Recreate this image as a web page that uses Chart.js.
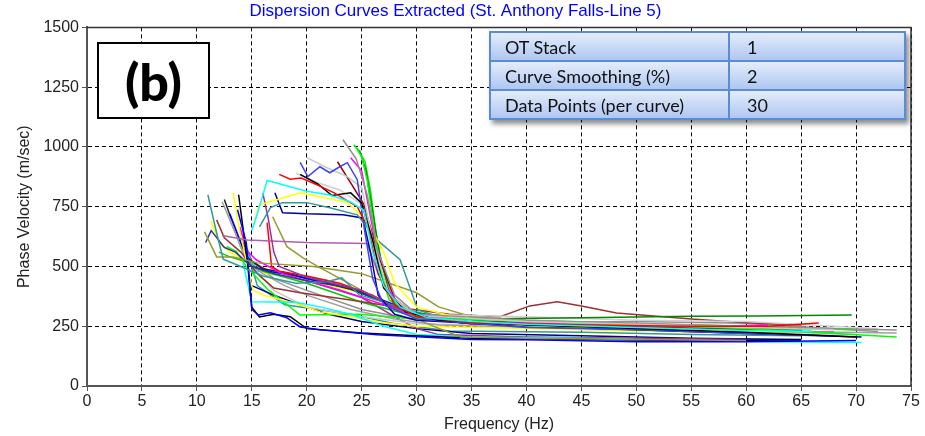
<!DOCTYPE html>
<html>
<head>
<meta charset="utf-8">
<script src="https://cdn.jsdelivr.net/npm/chart.js@4.4.0/dist/chart.umd.min.js"></script>
<style>
  html, body { margin: 0; padding: 0; background: #fff; }
  #wrap { position: relative; width: 925px; height: 436px; }
  #chart { position: absolute; left: 0; top: 0; }
  .tag {
    position: absolute; left: 97px; top: 42px; width: 109px; height: 73px;
    border: 2px solid #000; background: #fff;
    font: 900 52px Lato, "Liberation Sans", sans-serif; color: #000;
    display: flex; align-items: center; justify-content: center;
  }
  table.info {
    position: absolute; left: 489px; top: 31px; width: 417px;
    border-collapse: collapse; box-shadow: 3px 4px 5px rgba(0,0,0,0.45);
    font: 18px Lato, "Open Sans", sans-serif; color: #111;
  }
  table.info td {
    border: 2px solid #5b8bd0; height: 27px; padding: 0 0 0 14px;
    background: linear-gradient(#e4ecfb, #aec7f1);
  }
  table.info td.val { padding-left: 17px; }
</style>
</head>
<body>
<div id="wrap">
  <canvas id="chart" width="925" height="436"></canvas>
  <div class="tag">(b)</div>
  <table class="info">
    <tr><td style="width:223px">OT Stack</td><td class="val">1</td></tr>
    <tr><td>Curve Smoothing (%)</td><td class="val">2</td></tr>
    <tr><td>Data Points (per curve)</td><td class="val">30</td></tr>
  </table>
</div>
<script>
const titleText = 'Dispersion Curves Extracted (St. Anthony Falls-Line 5)';
const xTitle = 'Frequency (Hz)';
const yTitle = 'Phase Velocity (m/sec)';

// [frequency Hz, phase velocity m/s]
// high-velocity branch (drops near 25-27 Hz)
const cyanHigh = [[15,650],[15.5,720],[16.4,860],[18,840],[20,815],[22,800],[24,770],[25.2,735],[26,560],[27,420],[28.5,330],[31,285],[35,270],[40,258],[50,245],[60,232],[66,228]];
const redHigh = [[17.5,885],[18.5,865],[19.5,870],[21,840],[22.5,808],[24.6,750],[25.6,660],[26.5,470],[28,340],[30,290],[35,265],[45,255],[55,250],[62,250],[66.6,264]];
const blackHigh = [[19.4,885],[21,845],[22.3,797],[24,808],[25,765],[26,610],[27,410],[29,310],[32,275],[40,255],[50,240],[60,225],[70,205]];
const blueZigzag = [[19.4,935],[20.1,876],[21.2,917],[22.1,892],[23,917],[23.7,934],[24.6,863],[25.3,640],[26,450],[27,340],[30,280],[40,245],[50,235],[60,220],[68,210]];
const silverHigh = [[20,955],[22,910],[23.7,876],[25,830],[26,610],[27.5,380],[30,295],[40,270],[50,258],[60,245],[68,235]];
const grayHigh = [[23.3,1030],[24.5,950],[25.5,800],[26.5,560],[28,380],[30,300],[40,275],[50,262],[60,250],[73.7,234]];
const limeHigh = [[24.3,1010],[25,960],[25.5,860],[26,700],[26.5,520],[27.5,360],[30,285],[40,270],[50,255],[60,240],[73.7,205]];
const magentaHigh = [[24,955],[25,900],[26,660],[27,430],[29,305],[35,268],[45,258],[55,248],[62,255]];
const darkredHigh = [[22.8,938],[24,850],[25.2,760],[26.5,550],[28,365],[30,295],[40,262],[50,248],[60,238],[65,240]];
const yellowHigh = [[15.1,666],[15.7,758],[17.3,779],[19.4,808],[21.2,792],[23.7,767],[25.5,690],[27,560],[28,430],[30,330],[35,272],[40,252],[50,240],[60,228],[65,226]];
const tealHigh = [[15.7,666],[16.7,746],[17.8,767],[20,767],[22.1,746],[24.6,716],[26.4,611],[28.5,528],[30.1,318],[32,290],[35,272],[45,258],[55,248],[62,246]];
const navyHigh = [[17.1,808],[17.8,725],[20,720],[23.3,716],[25.1,703],[25.8,560],[26.5,380],[28,300],[30,275],[40,250],[50,235],[60,220],[70.5,205]];
const greenHigh = [[24.8,985],[25.4,900],[26,730],[26.6,560],[27.5,390],[29,310],[35,280],[45,285],[55,292],[61,293],[69.6,297]];
const silverHigh2 = [[19,890],[21,850],[23,820],[25,760],[26.3,560],[27.5,400],[30,300],[40,290],[50,275],[60,270],[72,240]];
const limeHigh2 = [[24.6,995],[25.3,940],[25.8,820],[26.3,640],[27,470],[28,350],[30,290],[40,262],[50,250],[60,238],[66,235]];
const purpleDrop = [[16,808],[16.5,700],[17,560],[17.5,500],[20,455],[25,400],[28,330],[30,290],[35,260],[45,250],[55,240],[62,235]];
const violetFlat = [[12.3,630],[14.6,611],[20,600],[25.5,596],[26.5,470],[28,350],[30,300],[35,260],[45,255],[55,245],[62,240]];

// low-frequency branch (starts at 11-14 Hz)
const tealLow = [[11,800],[11.8,640],[12.4,530],[14,500],[16,460],[19,430],[21.8,436],[23.2,452],[24.8,381],[28.5,330],[32,285],[40,265],[50,250],[60,240]];
const oliveLow = [[10.7,645],[11.8,540],[13.3,540],[15.5,515],[20.6,500],[25,470],[30,390],[32,331],[35,290],[40,275],[50,260],[60,250],[65,245]];
const oliveLow2 = [[16.9,708],[18.2,583],[19.7,535],[21,500],[25,400],[28,330],[31,260],[34,205],[40,200],[50,195],[60,190]];
const navyLow = [[10.8,600],[11.3,650],[12.5,580],[13.5,560],[15,500],[17,470],[20,440],[24,410],[28,330],[31,280],[35,260],[45,245],[55,235],[65,225]];
const blueLowest = [[13.7,737],[14.5,600],[15,320],[15.6,297],[16.7,306],[18.2,285],[19.4,247],[21.2,235],[26.4,214],[30,206],[35,195],[40,193],[50,185],[60,185],[70,190]];
const blackLow = [[13.8,800],[14.6,520],[15,330],[15.7,289],[17,300],[18.5,290],[20,240],[25,222],[30,210],[35,200],[45,195],[55,190],[65,192]];
const cyanLow = [[14.2,515],[15,352],[19,350],[21.2,331],[24,300],[27,250],[30,215],[35,205],[45,200],[55,190],[62,185],[70.5,182]];
const yellowLow = [[13.3,808],[13.9,650],[15.1,400],[16.4,375],[19,345],[21.2,310],[24,290],[27,265],[30,250],[40,240],[50,230],[60,222]];
const limeLow = [[12.7,583],[13.6,563],[14.5,500],[16.5,402],[19.4,297],[24.8,300],[30,280],[40,265],[50,255],[60,245],[70,235]];
const magentaLow = [[13.9,666],[14.6,563],[15.4,528],[17.6,473],[20,440],[23,402],[27,340],[30,289],[35,270],[45,255],[55,250],[64,245]];
const redLow = [[16.4,683],[16.8,500],[17.5,480],[20,460],[23,430],[26,380],[28,330],[31,280],[35,260],[45,245],[55,235],[63,230]];
const brownBump = [[11.8,695],[12.5,620],[14,560],[15.5,470],[17,410],[19.4,390],[24,360],[28.5,327],[33,300],[37.6,290],[40.3,335],[42.8,352],[45,335],[48.2,305],[55,280],[60,265],[65,255]];
const grayLow = [[12.3,771],[13.5,640],[14.5,520],[16,470],[18,420],[20,380],[24,320],[28,280],[32,255],[40,245],[50,235],[60,230],[73.7,222]];
const silverLow = [[13,700],[14,580],[15,500],[17,400],[20,330],[25,290],[30,260],[40,250],[50,240],[60,230],[70,215]];
const blueMid = [[13,720],[14,600],[15,500],[16.5,480],[18,470],[20,450],[24,410],[28,340],[31,290],[35,270],[45,255],[55,240],[65,230]];
const blackMid = [[12.5,780],[13.5,650],[14.5,540],[16,490],[18,475],[20,450],[24,405],[28,335],[31,285],[40,255],[50,240],[60,230],[68,225]];
const greenMid = [[12,560],[13,540],[14.5,520],[16,480],[20,430],[25,350],[30,290],[40,260],[50,250],[60,240],[65,240]];
const yellowMid = [[11.3,690],[12,600],[13,560],[14.5,520],[16,475],[20,440],[25,390],[30,300],[35,270],[45,255],[55,245],[62,238]];
const cyanMid = [[13.5,640],[14.5,560],[15.5,480],[18,470],[22,440],[26,370],[30,295],[35,275],[45,260],[55,250],[65,240]];
const purpleLow = [[14,620],[15,520],[17,470],[20,440],[25,370],[28,290],[30,240],[32,215],[40,205],[50,200],[60,195]];
const navyLow2 = [[15,420],[17,380],[20,330],[22,300],[25,270],[30,240],[35,220],[45,210],[55,200],[65,195]];
const tealLow2 = [[14.6,560],[15.5,420],[18,340],[21,320],[24,300],[28,260],[33,230],[45,225],[55,215],[65,210]];
const grayMid = [[14,650],[15,520],[17,450],[20,400],[25,320],[30,275],[40,265],[50,270],[60,262],[72,228]];

const curves = [
  cyanHigh, redHigh, blackHigh, blueZigzag, silverHigh, grayHigh, limeHigh, magentaHigh,
  darkredHigh, yellowHigh, tealHigh, navyHigh, greenHigh, silverHigh2, limeHigh2, purpleDrop,
  violetFlat, tealLow, oliveLow, oliveLow2, navyLow, blueLowest, blackLow, cyanLow, yellowLow,
  limeLow, magentaLow, redLow, brownBump, grayLow, silverLow, blueMid, blackMid, greenMid,
  yellowMid, cyanMid, purpleLow, navyLow2, tealLow2, grayMid
];
const lineColors = [
  '#00ffff', '#ff0000', '#000000', '#4040ff', '#c8c8c8', '#909090', '#00ff00', '#ff00ff',
  '#990000', '#ffff00', '#339999', '#000099', '#008800', '#d0d0d0', '#22dd22', '#993399',
  '#b060b0', '#339999', '#999933', '#999933', '#333399', '#0000ff', '#000000', '#00ffff', '#ffff00',
  '#00ff00', '#ff00ff', '#ff0000', '#993333', '#a0a0a0', '#c8c8c8', '#0000ff', '#222222', '#00cc00',
  '#ffff00', '#00e0e0', '#993399', '#000080', '#339999', '#909090'
];

const frame = {
  id: 'frame',
  afterDraw(chart) {
    const { ctx, chartArea: a } = chart;
    ctx.save();
    ctx.strokeStyle = '#333';
    ctx.lineWidth = 1.5;
    ctx.beginPath();
    ctx.moveTo(a.left, a.top);
    ctx.lineTo(a.right, a.top);
    ctx.lineTo(a.right, a.bottom);
    ctx.stroke();
    ctx.restore();
  }
};

const tickFont = { family: '"Liberation Sans", Arial, sans-serif', size: 16 };

new Chart(document.getElementById('chart').getContext('2d'), {
  type: 'line',
  data: {
    datasets: curves.map((pts, i) => ({
      data: pts.map(([x, y]) => ({ x, y })),
      borderColor: lineColors[i],
      borderWidth: 1.5,
      pointRadius: 0,
      fill: false,
      tension: 0
    }))
  },
  options: {
    responsive: false,
    animation: false,
    layout: { padding: { left: 0, right: 14, top: 0, bottom: 0 } },
    plugins: {
      legend: { display: false },
      tooltip: { enabled: false },
      title: {
        display: true,
        text: titleText,
        color: '#0000ff',
        font: { family: '"Liberation Sans", Arial, sans-serif', size: 17, weight: 'normal' },
        padding: { top: 1, bottom: 6 }
      }
    },
    scales: {
      x: {
        type: 'linear', min: 0, max: 75,
        ticks: { stepSize: 5, autoSkip: false, maxRotation: 0, padding: 1, color: '#222', font: tickFont,
                 callback: v => String(v) },
        grid: { color: '#000', lineWidth: 1, tickColor: '#555', tickLength: 5 },
        border: { color: '#555', width: 2, dash: [4, 3] },
        title: { display: true, text: xTitle, color: '#222', font: tickFont, padding: { top: 0, bottom: 2 } },
        afterFit: s => { s.height = 50; }
      },
      y: {
        min: 0, max: 1500,
        ticks: { stepSize: 250, padding: 3, color: '#222', font: tickFont, callback: v => String(v) },
        grid: { color: '#000', lineWidth: 1, tickColor: '#555', tickLength: 5 },
        border: { color: '#555', width: 2, dash: [4, 3] },
        title: { display: true, text: yTitle, color: '#222', font: tickFont, padding: { top: 15, bottom: 0 } },
        afterFit: s => { s.width = 87; }
      }
    }
  },
  plugins: [frame]
});
</script>
</body>
</html>
